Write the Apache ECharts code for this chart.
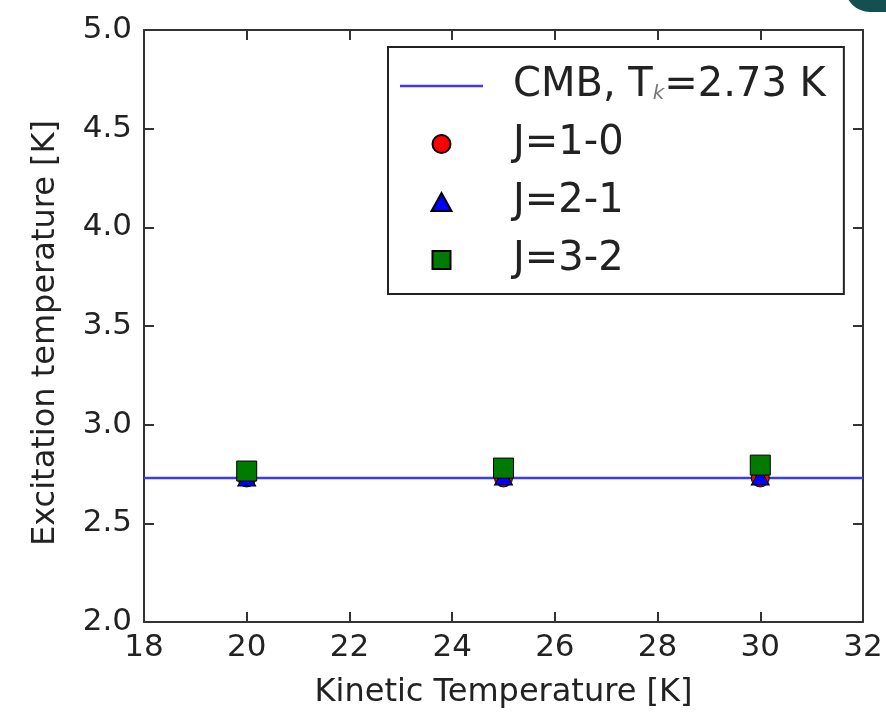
<!DOCTYPE html>
<html>
<head>
<meta charset="utf-8">
<script src="https://cdn.jsdelivr.net/npm/echarts@6/dist/echarts.min.js"></script>
<style>
html,body{margin:0;padding:0;background:#fff;}
#chart{width:886px;height:719px;}
</style>
</head>
<body>
<div id="chart"></div>
<script>
const kineticT = [20, 25, 30];
const cmbRange = [18, 32];
const cmbT = 2.73;
const j10 = [2.73, 2.73, 2.73];
const j21 = [2.73, 2.735, 2.735];
const j32 = [2.765, 2.78, 2.795];
const seriesNames = ['CMB, T_k=2.73 K', 'J=1-0', 'J=2-1', 'J=3-2'];
const xLabel = 'Kinetic Temperature [K]';
const yLabel = 'Excitation temperature [K]';

const FONT = 'DejaVu Sans';
const TXT = '#222';
const FS = 31;
const NFS = 32;
const LFS = 40;

const pairs = (xs, ys) => xs.map((x, i) => [x, ys[i]]);

const axisCommon = {
  type: 'value',
  splitLine: { show: false },
  axisLine: { show: true, onZero: false, lineStyle: { color: '#333', width: 2 } },
  axisTick: { show: true, inside: true, length: 10, lineStyle: { color: '#333', width: 2 } }
};

const ICON_LINE = 'path://M0,0 L83,0 L83,2.5 L0,2.5 Z';
const ICON_CIRCLE = 'path://M0,5 A5,5 0 1,1 10,5 A5,5 0 1,1 0,5 Z';
const ICON_TRI = 'path://M5,0 L10,9 L0,9 Z';
const ICON_SQ = 'path://M0,0 L10,0 L10,10 L0,10 Z';

const chart = echarts.init(document.getElementById('chart'), null, { renderer: 'canvas' });
chart.setOption({
  animation: false,
  backgroundColor: '#fff',
  textStyle: { fontFamily: FONT },
  grid: { left: 144, right: 23, top: 30, bottom: 97, containLabel: false },
  xAxis: [
    Object.assign({}, axisCommon, {
      position: 'bottom', min: 18, max: 32, interval: 2,
      axisLabel: { fontFamily: FONT, fontSize: FS, color: TXT, margin: 10 },
      name: xLabel, nameLocation: 'middle', nameGap: 55,
      nameTextStyle: { fontFamily: FONT, fontSize: NFS, color: TXT }
    }),
    Object.assign({}, axisCommon, {
      position: 'top', min: 18, max: 32, interval: 2,
      axisLabel: { show: false }
    })
  ],
  yAxis: [
    Object.assign({}, axisCommon, {
      position: 'left', min: 2, max: 5, interval: 0.5,
      axisLabel: { fontFamily: FONT, fontSize: FS, color: TXT, margin: 12,
        formatter: v => v.toFixed(1) },
      name: yLabel, nameLocation: 'middle', nameGap: 82, nameRotate: 90,
      nameTextStyle: { fontFamily: FONT, fontSize: NFS, color: TXT, padding: [0, 14, 0, 0] }
    }),
    Object.assign({}, axisCommon, {
      position: 'right', min: 2, max: 5, interval: 0.5,
      axisLabel: { show: false }
    })
  ],
  legend: {
    orient: 'vertical',
    left: 388, top: 47,
    padding: [16, 18, 11, 12],
    itemWidth: 83, itemHeight: 18, itemGap: 12,
    symbolKeepAspect: true,
    borderColor: '#222', borderWidth: 2,
    backgroundColor: '#fff',
    data: [
      { name: seriesNames[0], icon: ICON_LINE },
      { name: seriesNames[1], icon: ICON_CIRCLE },
      { name: seriesNames[2], icon: ICON_TRI },
      { name: seriesNames[3], icon: ICON_SQ }
    ],
    formatter: function (name) {
      if (name === seriesNames[0]) return 'CMB, T{k|k}=2.73 K';
      return name;
    },
    textStyle: {
      fontFamily: FONT, fontSize: LFS, color: TXT, lineHeight: 46,
      padding: [0, 0, 0, 25],
      rich: {
        k: { fontFamily: FONT, fontSize: 20, fontStyle: 'italic', color: '#777', padding: [16, 0, 0, 0], lineHeight: 46 }
      }
    }
  },
  graphic: [{
    type: 'rect', shape: { x: 845, y: -60, width: 110, height: 72, r: 25 },
    style: { fill: '#14504f' }, silent: true, z: 100
  }],
  series: [
    {
      name: seriesNames[0], type: 'line', xAxisIndex: 0, yAxisIndex: 0,
      data: cmbRange.map(x => [x, cmbT]),
      symbol: 'none', showSymbol: false,
      lineStyle: { color: '#3a3aff', width: 2.5 },
      itemStyle: { color: '#3a3aff' },
      z: 2
    },
    {
      name: seriesNames[1], type: 'scatter', data: pairs(kineticT, j10),
      symbol: 'circle', symbolSize: 18,
      itemStyle: { color: '#ff0000', borderColor: '#000', borderWidth: 1, opacity: 1 }, z: 3
    },
    {
      name: seriesNames[2], type: 'scatter', data: pairs(kineticT, j21),
      symbol: 'triangle', symbolSize: [18, 16],
      itemStyle: { color: '#0000ff', borderColor: '#000', borderWidth: 1, opacity: 1 }, z: 4
    },
    {
      name: seriesNames[3], type: 'scatter', data: pairs(kineticT, j32),
      symbol: 'rect', symbolSize: 20,
      itemStyle: { color: '#007a00', borderColor: '#000', borderWidth: 1, opacity: 1 }, z: 5
    }
  ]
});
</script>
</body>
</html>
